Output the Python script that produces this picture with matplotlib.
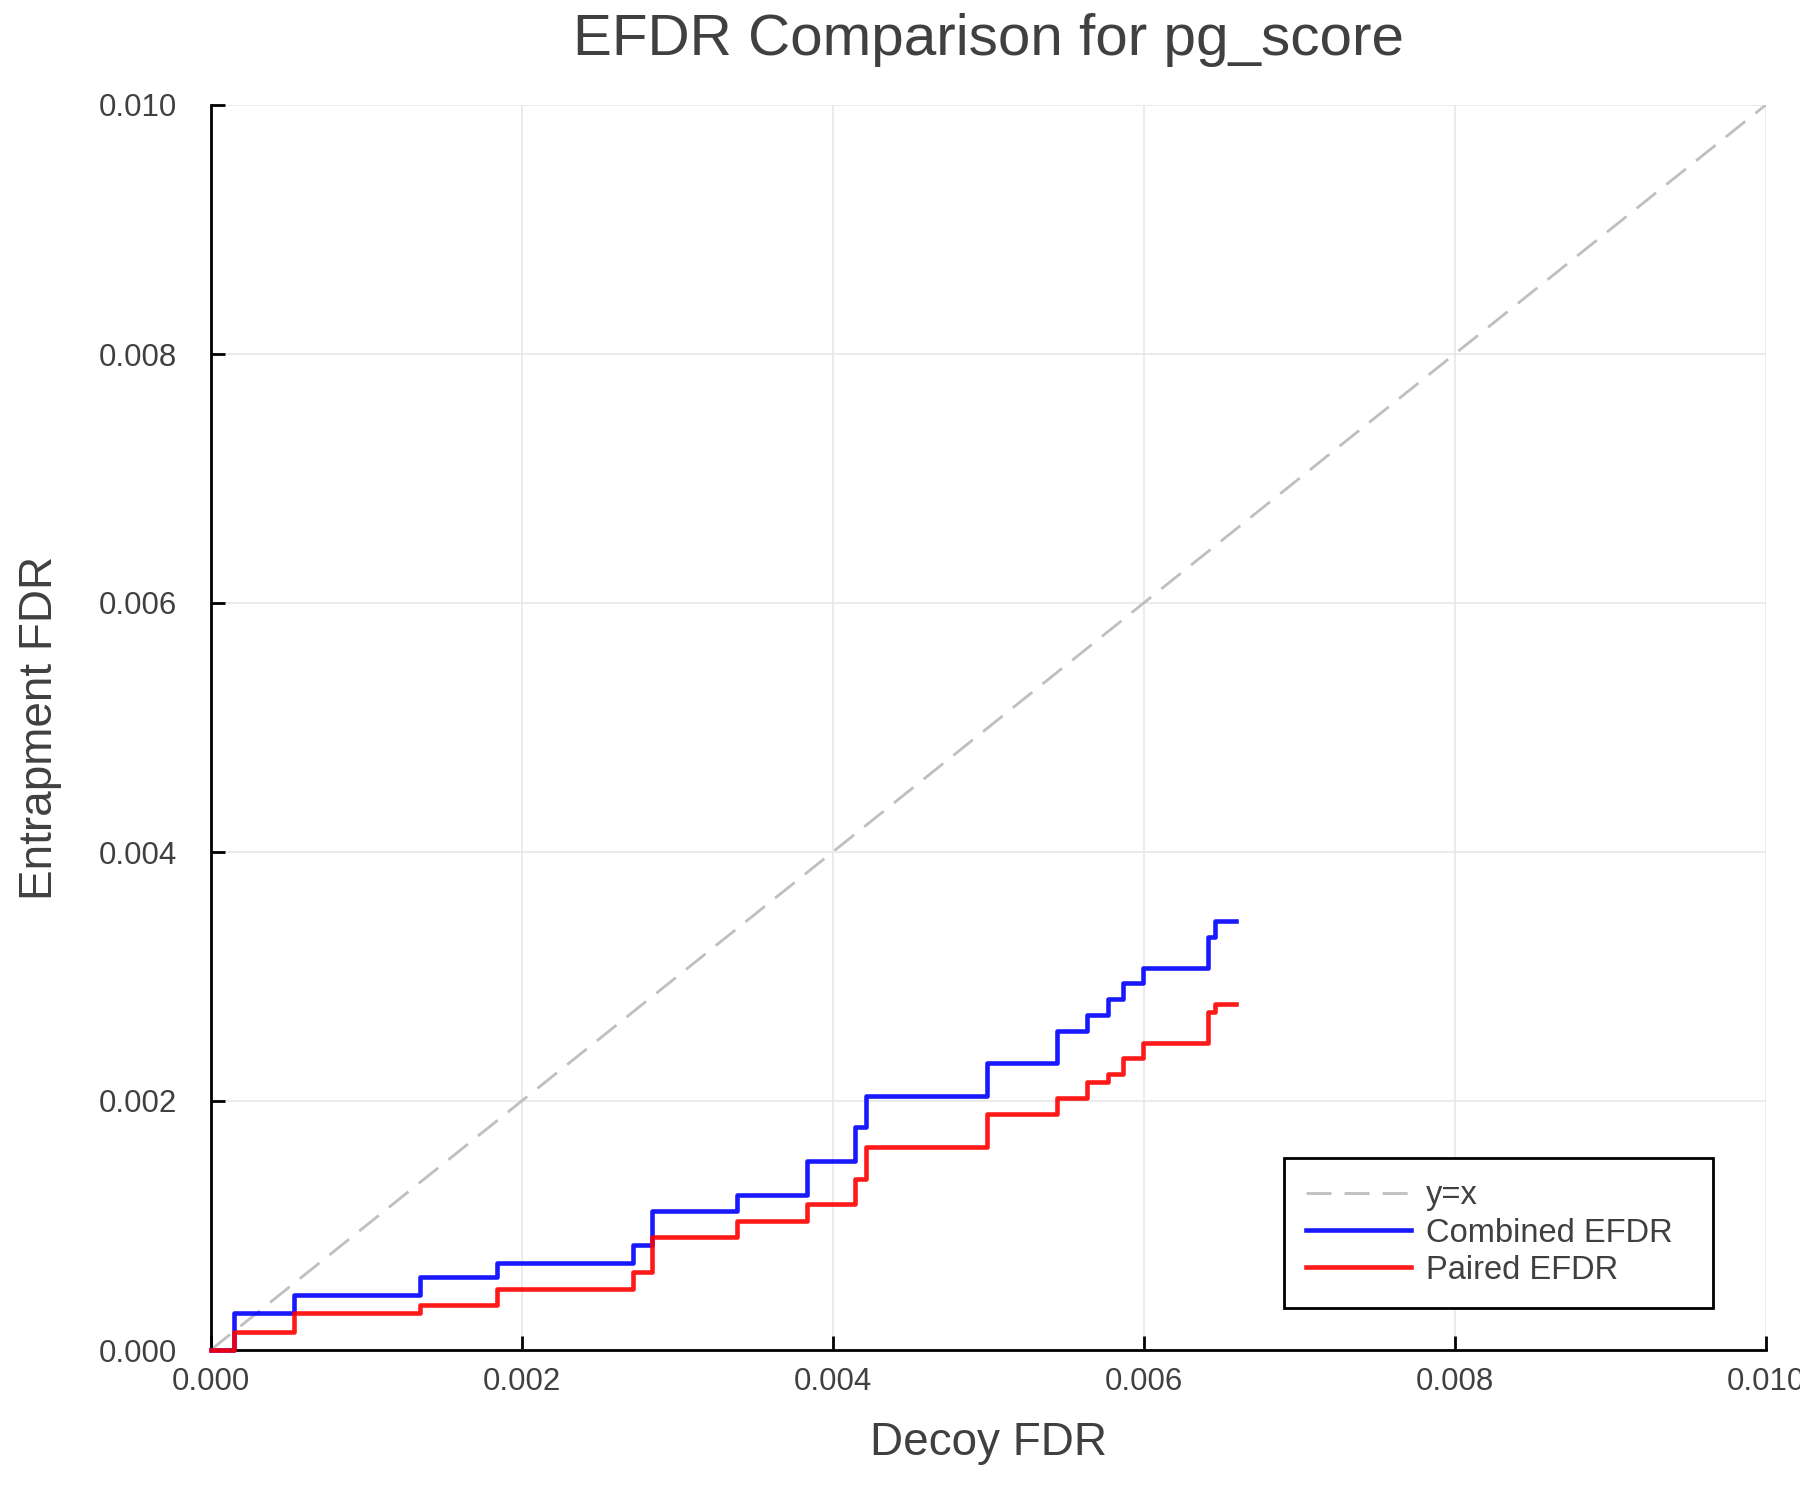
import matplotlib.pyplot as plt
from matplotlib.ticker import FormatStrFormatter

plt.rcParams['font.family'] = ['Liberation Sans', 'DejaVu Sans']

# step breakpoints (decoy FDR) shared by both curves
decoy_fdr = [0.0, 0.000152, 0.000538, 0.001346, 0.00184, 0.002718, 0.00284,
             0.003383, 0.003833, 0.004143, 0.004212, 0.00499, 0.005445,
             0.005633, 0.005772, 0.005869, 0.005994, 0.006412, 0.006459,
             0.006594]
combined_efdr = [0.0, 0.0003, 0.000442, 0.000586, 0.000701, 0.000846, 0.001116,
                 0.001245, 0.001518, 0.001789, 0.00204, 0.002303, 0.002565,
                 0.002691, 0.002819, 0.002945, 0.003071, 0.003315, 0.003446,
                 0.003446]
paired_efdr = [0.0, 0.000147, 0.000295, 0.000361, 0.000487, 0.000629, 0.000906,
               0.001036, 0.001173, 0.001371, 0.001633, 0.001894, 0.002022,
               0.002155, 0.002217, 0.002343, 0.002468, 0.002717, 0.002777,
               0.002777]
diag = [0.0, 0.01]
ticks = [0.0, 0.002, 0.004, 0.006, 0.008, 0.010]

txt = '#404040'

fig = plt.figure(figsize=(18, 15), dpi=100)
ax = fig.add_axes([210.7 / 1800, 1 - 1350 / 1500, 1555 / 1800, 1245 / 1500])

ax.plot(diag, diag, color='#bfbfbf', lw=2, linestyle=(0, (9, 4.7)), label='y=x', zorder=2)
ax.step(decoy_fdr, combined_efdr, where='post', color='blue', alpha=0.9, lw=3.3,
        label='Combined EFDR', clip_on=False, zorder=3)
ax.step(decoy_fdr, paired_efdr, where='post', color='red', alpha=0.9, lw=3.3,
        label='Paired EFDR', clip_on=False, zorder=3)

ax.set_xlim(0, 0.01)
ax.set_ylim(0, 0.01)
ax.set_xticks(ticks)
ax.set_yticks(ticks)
ax.xaxis.set_major_formatter(FormatStrFormatter('%.3f'))
ax.yaxis.set_major_formatter(FormatStrFormatter('%.3f'))
ax.grid(True, color='#e6e6e6', lw=1.1)
ax.set_axisbelow(True)

for s in ['top', 'right']:
    ax.spines[s].set_visible(False)
for s in ['left', 'bottom']:
    ax.spines[s].set_linewidth(2)
    ax.spines[s].set_color('black')

ax.tick_params(axis='both', direction='in', length=10, width=2, color='black',
               labelsize=22.5, labelcolor=txt)
ax.tick_params(axis='x', pad=12)
ax.tick_params(axis='y', pad=24)

ax.set_xlabel('Decoy FDR', fontsize=33, color=txt)
ax.set_ylabel('Entrapment FDR', fontsize=33, color=txt)
ax.xaxis.set_label_coords(0.5, -0.0747)
ax.xaxis.label.set_va('center')
ax.yaxis.set_label_coords(-0.1098, 0.5)
ax.yaxis.label.set_va('center')

ax.set_title('EFDR Comparison for pg_score', fontsize=42, color=txt, pad=36)

leg = ax.legend(loc='upper left', bbox_to_anchor=(0.6902, 0.1543, 0.2761, 0.0),
                mode='expand', fontsize=23.5, handlelength=3.2, handletextpad=0.46,
                labelspacing=0.19, borderpad=0.69, borderaxespad=0, fancybox=False,
                framealpha=1, edgecolor='black')
leg.get_frame().set_linewidth(2)
for t in leg.get_texts():
    t.set_color(txt)

fig.savefig('out.png', dpi=100, facecolor='white')
